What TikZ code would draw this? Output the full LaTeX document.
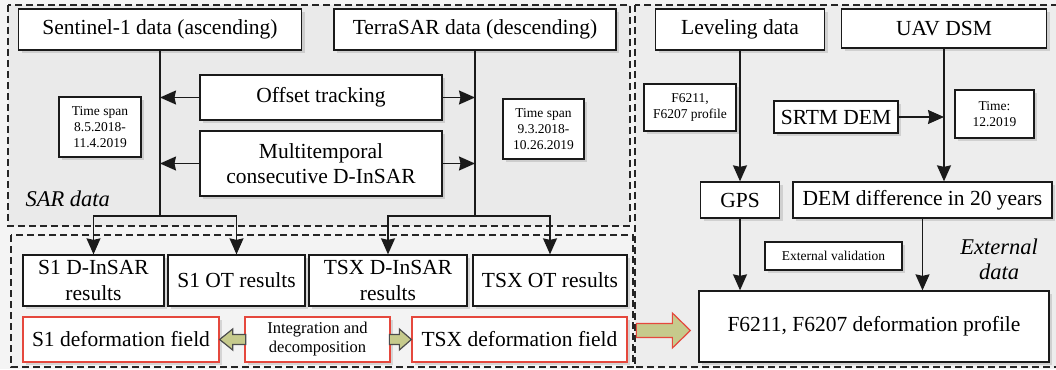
\documentclass[tikz,border=0pt]{standalone}
\usepackage{fontspec}
\setmainfont{Liberation Serif}
\usetikzlibrary{arrows.meta,positioning,shadows,calc}
\definecolor{pagegray}{HTML}{F4F4F4}
\definecolor{sargray}{HTML}{EAEAEA}
\definecolor{lowergray}{HTML}{F3F3F3}
\definecolor{extgray}{HTML}{EDEDED}
\definecolor{fieldred}{HTML}{E5483D}
\definecolor{olivefill}{HTML}{C6CA8C}
\definecolor{linegray}{HTML}{1A1A1A}

\begin{document}
\begin{tikzpicture}[
  x=1pt, y=-1pt,
  box/.style={
    draw=linegray,
    fill=white,
    line width=1.3pt,
    inner sep=2pt,
    align=center,
    font=\fontsize{21.5}{25.5}\selectfont,
    drop shadow={shadow xshift=3pt, shadow yshift=-3pt, opacity=0.12, fill=black}
  },
  notebox/.style={box, font=\fontsize{13.5}{16}\selectfont},
  fieldbox/.style={box, draw=fieldred},
  group/.style={draw=black!85, line width=1.3pt, dash pattern=on 7pt off 4pt},
  flow/.style={-{Stealth[length=16pt,width=14pt,inset=1.5pt]}, line width=1.3pt, draw=linegray},
  blockarrow/.style={fill=olivefill, draw=black!70, line width=1.2pt, line join=miter},
  grouplabel/.style={font=\fontsize{22.5}{25}\selectfont\itshape, align=center}
]
  \useasboundingbox (0,0) rectangle (1056,369);
  \fill[pagegray] (0,0) rectangle (1056,369);

  % Dashed groups
  \draw[group, fill=sargray] (8,5) rectangle (630,226);
  \draw[group, fill=lowergray] (11,235) rectangle (633,367);
  \draw[group, fill=extgray] (635,5) rectangle (1062,367);

  % SAR data
  \node[box, minimum width=283, minimum height=41] (s1) at (160,29.5) {Sentinel-1 data (ascending)};
  \node[box, minimum width=282, minimum height=41] (tsx) at (475,29.5) {TerraSAR data (descending)};
  \node[box, minimum width=242, minimum height=45] (ot) at (321,97.5) {Offset tracking};
  \node[box, minimum width=242, minimum height=65] (mt) at (321,163.5) {Multitemporal\\consecutive D-InSAR};
  \node[notebox, minimum width=82, minimum height=60] (s1span) at (100,127) {Time span\\8.5.2018-\\11.4.2019};
  \node[notebox, minimum width=81, minimum height=60] (tsxspan) at (543.5,129) {Time span\\9.3.2018-\\10.26.2019};
  \node[grouplabel, anchor=west] (sarlabel) at (22,199) {SAR data};

  \coordinate (s1split) at (160,216);
  \coordinate (tsxsplit) at (475,216);
  \draw[line width=1.3pt, draw=linegray] (s1.south) -- (s1split);
  \draw[line width=1.3pt, draw=linegray] (tsx.south) -- (tsxsplit);
  \draw[flow] (ot.west) -- (ot.west -| s1.south);
  \draw[flow] (mt.west) -- (mt.west -| s1.south);
  \draw[flow] (ot.east) -- (ot.east -| tsx.south);
  \draw[flow] (mt.east) -- (mt.east -| tsx.south);

  % Results
  \node[box, minimum width=141, minimum height=51] (s1din) at (93.5,280.5) {S1 D-InSAR\\results};
  \node[box, minimum width=137, minimum height=51] (s1res) at (236.5,280.5) {S1 OT results};
  \node[box, minimum width=158, minimum height=51] (tsxdin) at (388,280.5) {TSX D-InSAR\\results};
  \node[box, minimum width=154, minimum height=51] (tsxres) at (550,280.5) {TSX OT results};
  \draw[flow] (s1split) -| (s1din.north);
  \draw[flow] (s1split) -| (s1res.north);
  \draw[flow] (tsxsplit) -| (tsxdin.north);
  \draw[flow] (tsxsplit) -| (tsxres.north);

  \node[fieldbox, minimum width=196, minimum height=45] (s1def) at (121,339.5) {S1 deformation field};
  \node[fieldbox, minimum width=145, minimum height=45, font=\fontsize{16.5}{19}\selectfont] (integ) at (317.5,339.5) {Integration and\\decomposition};
  \node[fieldbox, minimum width=215, minimum height=45] (tsxdef) at (519.5,339.5) {TSX deformation field};
  \draw[blockarrow] (s1def.east) -- ++(13,-10.5) -- ++(0,5.5) -- ++(13,0) -- ++(0,10) -- ++(-13,0) -- ++(0,5.5) -- cycle;
  \draw[blockarrow] (tsxdef.west) -- ++(-12,-10.5) -- ++(0,5.5) -- ++(-10,0) -- ++(0,10) -- ++(10,0) -- ++(0,5.5) -- cycle;

  % External data
  \node[box, minimum width=169, minimum height=41] (lev) at (740,29.5) {Leveling data};
  \node[box, minimum width=205, minimum height=39] (uav) at (944,28.5) {UAV DSM};
  \node[notebox, minimum width=92, minimum height=47] (levnote) at (690,107.5) {F6211,\\F6207 profile};
  \node[box, minimum width=124, minimum height=32] (srtm) at (836,117) {SRTM DEM};
  \node[notebox, minimum width=79, minimum height=48] (uavnote) at (994.5,114) {Time:\\12.2019};
  \node[box, minimum width=79, minimum height=36] (gps) at (740,200) {GPS};
  \node[box, minimum width=259, minimum height=36] (demdiff) at (922.5,200) {DEM difference in 20 years};
  \node[notebox, minimum width=137, minimum height=28] (valid) at (833.5,256) {External validation};
  \node[box, minimum width=350, minimum height=71] (prof) at (874,326.5) {F6211, F6207 deformation profile};
  \node[grouplabel] (extlabel) at (999,259.5) {External\\data};

  \draw[flow] (lev.south) -- (gps.north);
  \draw[flow] (uav.south) -- (uav.south |- demdiff.north);
  \draw[flow] (srtm.east) -- (srtm.east -| uav.south);
  \draw[flow] (gps.south) -- (gps.south |- prof.north);
  \draw[flow] (demdiff.south) -- (demdiff.south |- prof.north);

  % Transfer arrow
  \coordinate (tip) at ($(prof.west)+(-8,4)$);
  \draw[blockarrow, draw=fieldred] (tip) -- ++(-18,-17.5) -- ++(0,10.5) -- ++(-36,0) -- ++(0,14) -- ++(36,0) -- ++(0,10.5) -- cycle;

\end{tikzpicture}
\end{document}
